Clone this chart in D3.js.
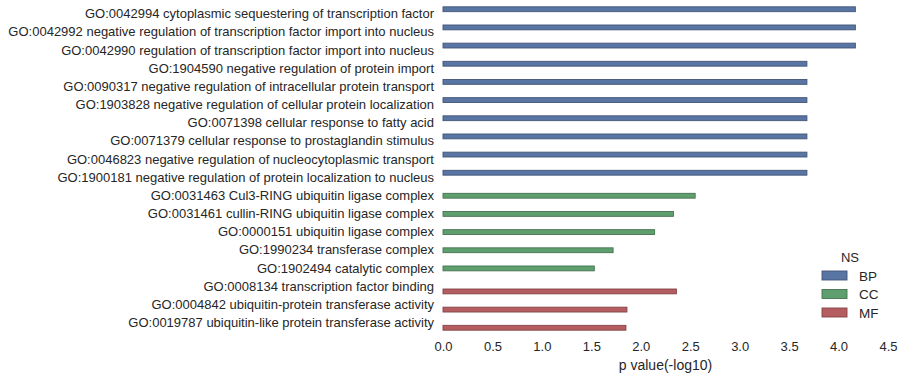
<!DOCTYPE html>
<html><head><meta charset="utf-8">
<script src="https://cdn.jsdelivr.net/npm/d3@7"></script>
<style>body{margin:0;background:#fff}svg{display:block}text{font-family:"Liberation Sans",Arial,sans-serif;fill:#262626}</style>
</head><body><svg id="c" width="905" height="379"></svg>
<script>
const categories = [
"GO:0042994 cytoplasmic sequestering of transcription factor",
"GO:0042992 negative regulation of transcription factor import into nucleus",
"GO:0042990 regulation of transcription factor import into nucleus",
"GO:1904590 negative regulation of protein import",
"GO:0090317 negative regulation of intracellular protein transport",
"GO:1903828 negative regulation of cellular protein localization",
"GO:0071398 cellular response to fatty acid",
"GO:0071379 cellular response to prostaglandin stimulus",
"GO:0046823 negative regulation of nucleocytoplasmic transport",
"GO:1900181 negative regulation of protein localization to nucleus",
"GO:0031463 Cul3-RING ubiquitin ligase complex",
"GO:0031461 cullin-RING ubiquitin ligase complex",
"GO:0000151 ubiquitin ligase complex",
"GO:1990234 transferase complex",
"GO:1902494 catalytic complex",
"GO:0008134 transcription factor binding",
"GO:0004842 ubiquitin-protein transferase activity",
"GO:0019787 ubiquitin-like protein transferase activity"];
const namespaces = ["BP","BP","BP","BP","BP","BP","BP","BP","BP","BP","CC","CC","CC","CC","CC","MF","MF","MF"];
const pvalues = [4.17,4.17,4.17,3.68,3.68,3.68,3.68,3.68,3.68,3.68,2.55,2.33,2.14,1.72,1.53,2.36,1.86,1.85];
const hueLevels = ["BP","CC","MF"];
const colors = ["#5975A4","#5F9E6E","#B55D60"];
const xTicks = [0,0.5,1,1.5,2,2.5,3,3.5,4,4.5];

(function(){
const svg = d3.select("#c");
const mLeft = 443, mRight = 888, mTop = 5, mBottom = 332;
const x = d3.scaleLinear().domain([0,4.5]).range([mLeft,mRight]);
const y = d3.scaleBand().domain(categories).range([mTop,mBottom]).paddingInner(0).paddingOuter(0);
const sub = d3.scaleBand().domain(hueLevels).range([0.1*y.bandwidth(),0.9*y.bandwidth()]);
const col = d3.scaleOrdinal().domain(hueLevels).range(colors);

svg.append("g").selectAll("rect").data(categories).join("rect")
  .attr("x", x(0))
  .attr("y", (d,i)=> y(d)+sub(namespaces[i]))
  .attr("height", sub.bandwidth())
  .attr("width", (d,i)=> x(pvalues[i])-x(0))
  .attr("fill", (d,i)=> col(namespaces[i]))
  .attr("stroke", (d,i)=> d3.color(col(namespaces[i])).darker(0.9))
  .attr("stroke-width", 0.9);

const ya = svg.append("g").attr("transform",`translate(${mLeft},0)`)
  .call(d3.axisLeft(y).tickSize(0).tickPadding(9));
ya.select(".domain").remove();
ya.selectAll("text").style("font-size","13px").attr("fill","#262626");

const xa = svg.append("g").attr("transform",`translate(0,${mBottom})`)
  .call(d3.axisBottom(x).tickValues(xTicks).tickFormat(d3.format(".1f")).tickSize(0).tickPadding(10));
xa.select(".domain").remove();
xa.selectAll("text").style("font-size","13px").attr("fill","#262626");

svg.append("text").attr("x",(mLeft+mRight)/2).attr("y",370).attr("text-anchor","middle")
  .style("font-size","14px").text("p value(-log10)");

const lg = svg.append("g");
lg.append("text").attr("x",850).attr("y",262).attr("text-anchor","middle").style("font-size","13px").text("NS");
hueLevels.forEach((h,i)=>{
  const yy = 271 + i*18.5;
  lg.append("rect").attr("x",822).attr("y",yy).attr("width",25).attr("height",9)
    .attr("fill",col(h)).attr("stroke",d3.color(col(h)).darker(0.9)).attr("stroke-width",0.9);
  lg.append("text").attr("x",859).attr("y",yy+9.5).style("font-size","13.5px").text(h);
});
})();
</script></body></html>
